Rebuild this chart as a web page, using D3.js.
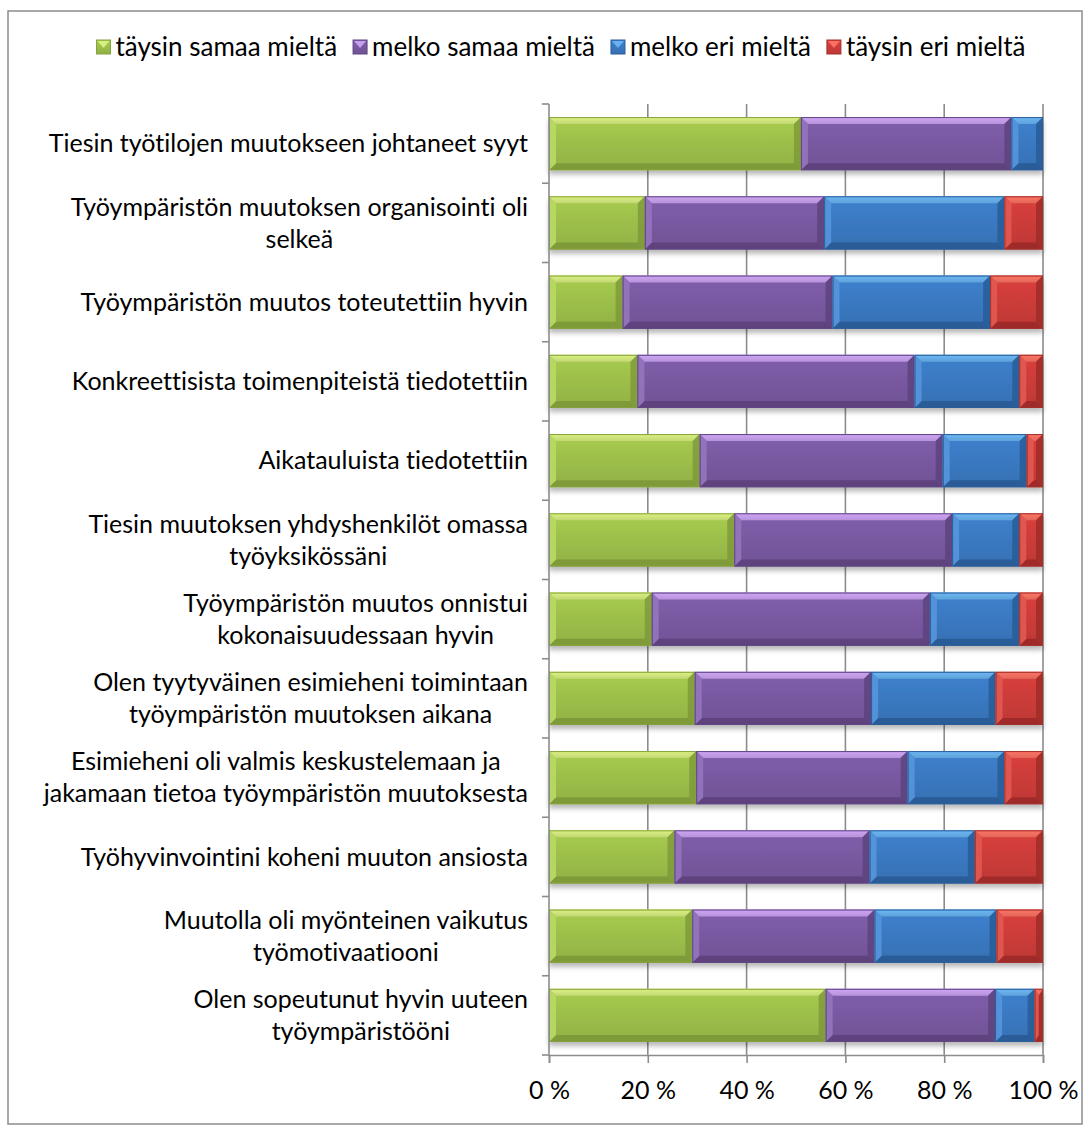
<!DOCTYPE html>
<html>
<head>
<meta charset="utf-8">
<script src="https://cdn.jsdelivr.net/npm/d3@7"></script>
<style>
  html, body { margin: 0; padding: 0; background: #fff; }
  svg { display: block; }
  text { font-family: Lato, "Open Sans", sans-serif; fill: #000; font-variant-ligatures: none; font-feature-settings: "liga" 0; }
</style>
</head>
<body>
<svg id="chart" width="1092" height="1133"></svg>
<script>
// Survey statements (line breaks follow the label wrapping)
const categories = [
  "Tiesin työtilojen muutokseen johtaneet syyt",
  "Työympäristön muutoksen organisointi oli\nselkeä",
  "Työympäristön muutos toteutettiin hyvin",
  "Konkreettisista toimenpiteistä tiedotettiin",
  "Aikatauluista tiedotettiin",
  "Tiesin muutoksen yhdyshenkilöt omassa\ntyöyksikössäni",
  "Työympäristön muutos onnistui\nkokonaisuudessaan hyvin",
  "Olen tyytyväinen esimieheni toimintaan\ntyöympäristön muutoksen aikana",
  "Esimieheni oli valmis keskustelemaan ja\njakamaan tietoa työympäristön muutoksesta",
  "Työhyvinvointini koheni muuton ansiosta",
  "Muutolla oli myönteinen vaikutus\ntyömotivaatiooni",
  "Olen sopeutunut hyvin uuteen\ntyöympäristööni"
];

const seriesNames = ["täysin samaa mieltä", "melko samaa mieltä", "melko eri mieltä", "täysin eri mieltä"];

// Share of answers (%) per statement
const taysinSamaa = [51.0, 19.4, 14.9, 17.9, 30.5, 37.5, 20.8, 29.5, 29.8, 25.4, 29.0, 56.0];
const melkoSamaa  = [42.6, 36.3, 42.5, 56.1, 49.2, 44.1, 56.3, 35.7, 42.8, 39.5, 36.9, 34.3];
const melkoEri    = [ 6.4, 36.5, 31.9, 21.2, 17.0, 13.6, 18.1, 25.2, 19.6, 21.3, 24.7,  8.0];
const taysinEri   = [ 0.0,  7.8, 10.7,  4.8,  3.3,  4.8,  4.8,  9.6,  7.8, 13.8,  9.4,  1.7];

const xTicks = [0, 0.2, 0.4, 0.6, 0.8, 1.0];

// Face / light / dark shades for the bevelled segments
const palette = [
  { face: "#9fc14b", top: "#dcf383", light: "#b9d866", dark: "#7b9537", edge: "#86a23c" },
  { face: "#7a5aa3", top: "#cfa6f6", light: "#9576bd", dark: "#5a4079", edge: "#5e4582" },
  { face: "#3b7ac4", top: "#6cb8f6", light: "#5596dc", dark: "#275992", edge: "#2b5d99" },
  { face: "#cf3d3a", top: "#ff7565", light: "#e25a52", dark: "#9a2a27", edge: "#a0302c" }
];

const table = categories.map((c, i) => ({
  cat: c,
  [seriesNames[0]]: taysinSamaa[i],
  [seriesNames[1]]: melkoSamaa[i],
  [seriesNames[2]]: melkoEri[i],
  [seriesNames[3]]: taysinEri[i]
}));

const stacked = d3.stack().keys(seriesNames).offset(d3.stackOffsetExpand)(table);

const svg = d3.select("#chart");
const plot = { left: 549, right: 1043, top: 104, bottom: 1055 };
const fontSize = 25;

const x = d3.scaleLinear().domain([0, 1]).range([plot.left, plot.right]);
const y = d3.scaleBand().domain(categories).range([plot.top, plot.bottom])
  .paddingInner(0.33).paddingOuter(0.165);

// Outer frame
svg.append("rect")
  .attr("x", 8).attr("y", 11).attr("width", 1074).attr("height", 1113)
  .attr("fill", "#fff").attr("stroke", "#8c8c8c").attr("stroke-width", 1.5);

const defs = svg.append("defs");
const shadow = defs.append("filter").attr("id", "shadow")
  .attr("x", "-5%").attr("y", "-20%").attr("width", "110%").attr("height", "150%");
shadow.append("feDropShadow").attr("dx", 0).attr("dy", 4).attr("stdDeviation", 2.5)
  .attr("flood-color", "#000").attr("flood-opacity", 0.28);

palette.forEach((p, i) => {
  const g = defs.append("linearGradient").attr("id", "face" + i)
    .attr("x1", 0).attr("y1", 0).attr("x2", 0).attr("y2", 1);
  g.append("stop").attr("offset", "0%").attr("stop-color", d3.color(p.face).brighter(0.15));
  g.append("stop").attr("offset", "100%").attr("stop-color", d3.color(p.face).darker(0.25));
  const t = defs.append("linearGradient").attr("id", "top" + i)
    .attr("x1", 0).attr("y1", 0).attr("x2", 0).attr("y2", 1);
  t.append("stop").attr("offset", "0%").attr("stop-color", p.top);
  t.append("stop").attr("offset", "100%").attr("stop-color", d3.color(p.top).darker(0.35));
});

// Vertical gridlines
svg.append("g").selectAll("line").data(xTicks.slice(1)).join("line")
  .attr("x1", d => x(d)).attr("x2", d => x(d))
  .attr("y1", plot.top).attr("y2", plot.bottom)
  .attr("stroke", "#8c8c8c").attr("stroke-width", 1.6);

// Bars with a bevelled look
const bevel = 7;
const layers = svg.append("g").attr("filter", "url(#shadow)");
stacked.forEach((series, si) => {
  const p = palette[si];
  series.forEach(d => {
    const x0 = x(d[0]), x1 = x(d[1]);
    const w = x1 - x0;
    if (w <= 0.01) return;
    const y0 = y(d.data.cat), h = y.bandwidth(), y1 = y0 + h;
    const b = Math.min(bevel, w / 2);
    const g = layers.append("g");
    g.append("rect").attr("x", x0).attr("y", y0).attr("width", w).attr("height", h)
      .attr("fill", `url(#face${si})`);
    const poly = pts => g.append("polygon").attr("points", pts.map(q => q.join(",")).join(" "));
    poly([[x0, y0], [x1, y0], [x1 - b, y0 + bevel], [x0 + b, y0 + bevel]]).attr("fill", `url(#top${si})`);
    poly([[x0, y1], [x1, y1], [x1 - b, y1 - bevel], [x0 + b, y1 - bevel]]).attr("fill", p.dark).attr("opacity", 0.85);
    poly([[x0, y0], [x0 + b, y0 + bevel], [x0 + b, y1 - bevel], [x0, y1]]).attr("fill", p.light).attr("opacity", 0.9);
    poly([[x1, y0], [x1 - b, y0 + bevel], [x1 - b, y1 - bevel], [x1, y1]]).attr("fill", p.dark).attr("opacity", 0.75);
    g.append("rect").attr("x", x0 + 0.5).attr("y", y0 + 0.5).attr("width", Math.max(0, w - 1)).attr("height", h - 1)
      .attr("fill", "none").attr("stroke", p.edge).attr("stroke-width", 1);
  });
});

// Category axis line and tick marks at band boundaries
const axisCol = "#8c8c8c";
svg.append("line").attr("x1", plot.left).attr("x2", plot.left)
  .attr("y1", plot.top).attr("y2", plot.bottom)
  .attr("stroke", axisCol).attr("stroke-width", 1.6);
const bounds = d3.range(categories.length + 1).map(i => plot.top + i * y.step());
svg.append("g").selectAll("line").data(bounds).join("line")
  .attr("x1", plot.left - 7).attr("x2", plot.left)
  .attr("y1", d => d).attr("y2", d => d)
  .attr("stroke", axisCol).attr("stroke-width", 1.6);

// Value axis
const xAxis = d3.axisBottom(x).tickValues(xTicks)
  .tickFormat(d => Math.round(d * 100) + " %").tickSize(8).tickPadding(18);
const gx = svg.append("g").attr("transform", `translate(0,${plot.bottom})`).call(xAxis);
gx.select(".domain").attr("stroke", axisCol).attr("stroke-width", 1.6);
gx.selectAll(".tick line").attr("stroke", axisCol).attr("stroke-width", 1.6);
gx.selectAll(".tick text").attr("font-size", fontSize).attr("font-family", "Lato, 'Open Sans', sans-serif").attr("fill", "#000");

// Category labels; wrapped lines are centred on each other, block right-aligned
const labelRight = 528, lineGap = 32;
const lg = svg.append("g");
categories.forEach(c => {
  const lines = c.split("\n");
  const cy = y(c) + y.bandwidth() / 2;
  const t = lg.append("text").attr("font-size", fontSize).attr("text-anchor", "middle");
  const spans = lines.map((ln, i) => t.append("tspan").text(ln)
    .attr("y", cy + (i - (lines.length - 1) / 2) * lineGap).attr("dy", "0.35em"));
  const maxW = d3.max(spans, s => s.node().getComputedTextLength());
  spans.forEach(s => s.attr("x", labelRight - maxW / 2));
});

// Legend
const legendY = 47, markerSize = 14, legendSize = 26;
const leg = svg.append("g");
const items = seriesNames.map((name, i) => {
  const g = leg.append("g");
  g.append("rect").attr("x", 0).attr("y", legendY - markerSize / 2).attr("width", markerSize).attr("height", markerSize)
    .attr("fill", `url(#face${i})`).attr("stroke", palette[i].edge);
  g.append("polygon")
    .attr("points", `1,${legendY - markerSize / 2 + 1} ${markerSize - 1},${legendY - markerSize / 2 + 1} ${markerSize / 2},${legendY + 1}`)
    .attr("fill", palette[i].top).attr("opacity", 0.9);
  const tx = g.append("text").attr("x", markerSize + 5).attr("y", legendY).attr("dy", "0.35em")
    .attr("font-size", legendSize).text(name);
  return { g, w: markerSize + 5 + tx.node().getComputedTextLength() };
});
const itemGap = 16;
const total = d3.sum(items, it => it.w) + itemGap * (items.length - 1);
let cx = 561 - total / 2;
items.forEach(it => { it.g.attr("transform", `translate(${cx},0)`); cx += it.w + itemGap; });
</script>
</body>
</html>
